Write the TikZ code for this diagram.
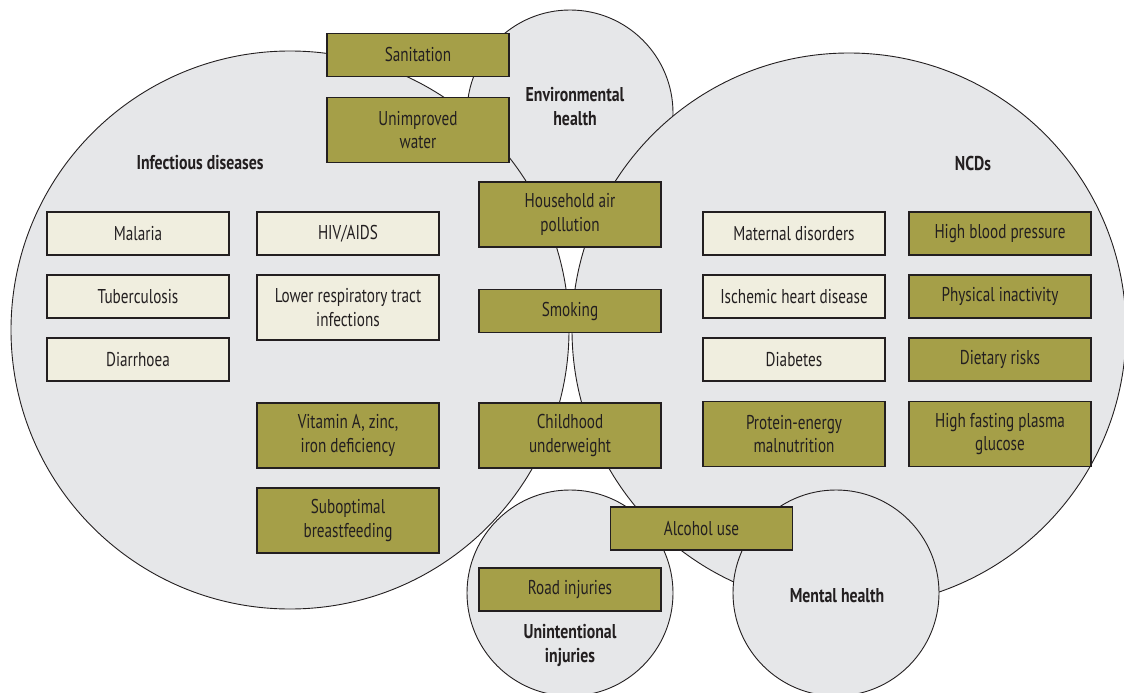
\documentclass[tikz,border=0pt]{standalone}
\usepackage{fontspec}
\setmainfont{PT Sans}[FakeStretch=0.76]
\newfontfamily\titlefont{PT Sans Bold}[FakeStretch=0.79]
\definecolor{circfill}{HTML}{E6E7E9}
\definecolor{olive}{HTML}{A59F48}
\definecolor{cream}{HTML}{F0EEDF}
\definecolor{ink}{HTML}{231F20}
\tikzset{
  area/.style={fill=circfill,draw=ink,line width=0.9pt},
  boxbase/.style={draw=ink,line width=1.2pt,minimum width=182pt,inner sep=0pt,align=center,text=ink,font=\fontsize{20}{23.5}\selectfont},
  riskbox/.style={boxbase,fill=olive},
  dzbox/.style={boxbase,fill=cream},
  one/.style={minimum height=43pt},
  two/.style={minimum height=65pt},
  title/.style={align=center,text=ink,font=\fontsize{20}{24}\titlefont}
}
\begin{document}
\begin{tikzpicture}[x=1pt,y=-1pt]
\useasboundingbox (0,0) rectangle (1124,693);
\clip (0,0) rectangle (1124,693);
% circles
\path[area] (570,113) circle[radius=103pt] coordinate (env);
\path[area] (290,330) circle[radius=279pt] coordinate (inf);
\path[area] (849,330) circle[radius=277pt] coordinate (ncd);
\path[area] (570,593) circle[radius=103pt] coordinate (uni);
\path[area] (836,593) circle[radius=103pt] coordinate (men);
% titles
\node[title] (tenv) at (575,107) {Environmental\\health};
\node[title] (tinf) at (200,163) {Infectious diseases};
\node[title] (tncd) at (973,163) {NCDs};
\node[title] (tuni) at (570,645) {Unintentional\\injuries};
\node[title] (tmen) at (837,596) {Mental health};
% shared risk boxes
\node[riskbox,one] (san) at (418,55) {Sanitation};
\node[riskbox,two] (wat) at (418,130) {Unimproved\\water};
\node[riskbox,two] (hap) at (570,214.5) {Household air\\pollution};
\node[riskbox,one] (smk) at (570,311) {Smoking};
\node[riskbox,two] (chu) at (570,435.5) {Childhood\\underweight};
\node[riskbox,one] (alc) at (701.5,528.5) {Alcohol use};
\node[riskbox,one] (road) at (570,589.5) {Road injuries};
% infectious diseases
\node[dzbox,one] (mal) at (138,233.5) {Malaria};
\node[dzbox,one] (hiv) at (348,233.5) {HIV/AIDS};
\node[dzbox,one] (tb) at (138,296.5) {Tuberculosis};
\node[dzbox,two] (lri) at (348,307.5) {Lower respiratory tract\\infections};
\node[dzbox,one] (dia) at (138,359.5) {Diarrhoea};
\node[riskbox,two] (vit) at (348,435.5) {Vitamin A, zinc,\\iron deficiency};
\node[riskbox,two] (bf) at (348,520.5) {Suboptimal\\breastfeeding};
% NCDs
\node[dzbox,one] (mat) at (794,233.5) {Maternal disorders};
\node[dzbox,one] (ihd) at (794,296.5) {Ischemic heart disease};
\node[dzbox,one] (dbt) at (794,359.5) {Diabetes};
\node[riskbox,two] (pem) at (794,434) {Protein-energy\\malnutrition};
\node[riskbox,one] (hbp) at (1000,233.5) {High blood pressure};
\node[riskbox,one] (phy) at (1000,296.5) {Physical inactivity};
\node[riskbox,one] (diet) at (1000,359.5) {Dietary risks};
\node[riskbox,two] (hfg) at (1000,434) {High fasting plasma\\glucose};
\end{tikzpicture}
\end{document}
